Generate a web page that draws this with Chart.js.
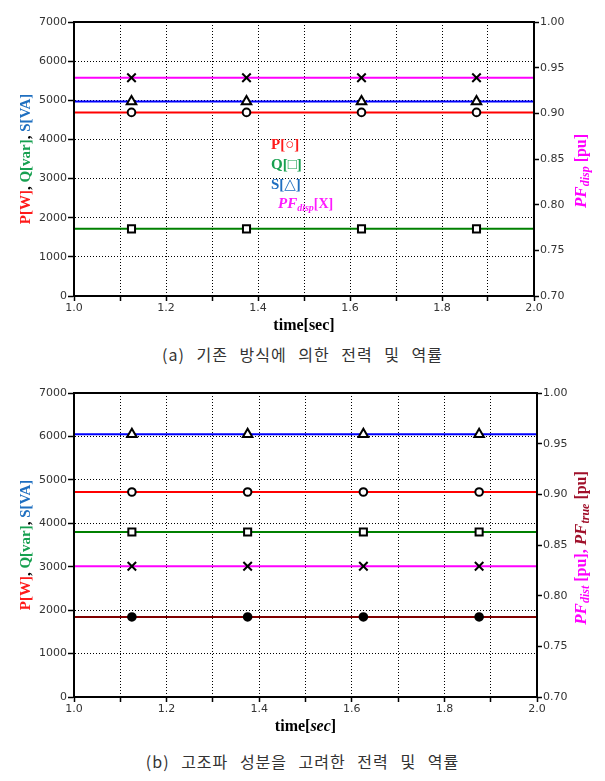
<!DOCTYPE html>
<html>
<head>
<meta charset="utf-8">
<script src="https://cdn.jsdelivr.net/npm/chart.js@4.4.1/dist/chart.umd.min.js"></script>
<style>
  body { margin: 0; background: #fff; width: 605px; height: 781px; position: relative; overflow: hidden; }
  .box { position: absolute; left: 0; width: 605px; }
  .cap { position: absolute; left: 0; width: 605px; text-align: center; font-family: "Noto Sans CJK KR", sans-serif;
         font-size: 16px; color: #333; letter-spacing: 1px; word-spacing: 7px; }
</style>
</head>
<body>
<div class="box" style="top:0;height:340px"><canvas id="chartA" width="605" height="340"></canvas></div>
<div class="cap" style="top:342px">(a) 기존 방식에 의한 전력 및 역률</div>
<div class="box" style="top:380px;height:365px"><canvas id="chartB" width="605" height="365"></canvas></div>
<div class="cap" style="top:749px">(b) 고조파 성분을 고려한 전력 및 역률</div>
<script>
// time axis [sec] - ends carry the line, inner points carry the markers
const time = [1.0, 1.125, 1.375, 1.625, 1.875, 2.0];

// (a) conventional method
const pA = [4690, 4690, 4690, 4690, 4690, 4690];
const qA = [1715, 1715, 1715, 1715, 1715, 1715];
const sA = [4970, 4970, 4970, 4970, 4970, 4970];
const pfDispA = [0.939, 0.939, 0.939, 0.939, 0.939, 0.939];

// (b) with harmonics
const pB = [4720, 4720, 4720, 4720, 4720, 4720];
const qB = [3800, 3800, 3800, 3800, 3800, 3800];
const sB = [6050, 6050, 6050, 6050, 6050, 6050];
const pfDistB = [0.829, 0.829, 0.829, 0.829, 0.829, 0.829];
const pfTrueB = [0.779, 0.779, 0.779, 0.779, 0.779, 0.779];

const leftTicks = [0, 7000, 1000];
const rightTicks = [0.70, 1.00, 0.05];

const SERIF = '"Liberation Serif", "DejaVu Serif", serif';
const markerSize = { circle: 3.8, rect: 5, triangle: 5.5, crossRot: 6 };

function series(label, vals, color, style, axis, fill) {
    return {
        label: label,
        data: vals.map((v, i) => ({ x: time[i], y: v })),
        yAxisID: axis,
        borderColor: color,
        borderWidth: 2,
        pointStyle: style,
        pointRadius: c => (c.dataIndex === 0 || c.dataIndex === time.length - 1) ? 0 : markerSize[style],
        pointBorderColor: '#000',
        pointBorderWidth: 2,
        pointBackgroundColor: fill || '#fff',
        tension: 0
    };
}

// draws a run of coloured text pieces; rot = rotate -90deg around (x, y)
function richText(ctx, x, y, parts, rot, align) {
    ctx.save();
    ctx.translate(x, y);
    if (rot) ctx.rotate(-Math.PI / 2);
    let total = 0;
    parts.forEach(p => { ctx.font = p.font; total += ctx.measureText(p.t).width; });
    let cx = align === 'left' ? 0 : -total / 2;
    ctx.textBaseline = 'middle';
    parts.forEach(p => {
        ctx.font = p.font;
        ctx.fillStyle = p.c || '#000';
        ctx.fillText(p.t, cx, p.dy || 0);
        cx += ctx.measureText(p.t).width;
    });
    ctx.restore();
}

function decorations(cfg) {
    return {
        id: 'decor',
        afterDraw(chart) {
            const ctx = chart.ctx, a = chart.chartArea;
            ctx.save();
            ctx.strokeStyle = '#000';
            ctx.lineWidth = 2;
            ctx.strokeRect(a.left, a.top, a.right - a.left, a.bottom - a.top);
            ctx.restore();
            const b = 'bold 15px ' + SERIF;
            richText(ctx, 26, (a.top + a.bottom) / 2, [
                { t: 'P[W]', c: '#ff1a1a', font: b },
                { t: ', ', c: '#000', font: b },
                { t: 'Q[var]', c: '#17a050', font: b },
                { t: ', ', c: '#000', font: b },
                { t: 'S[VA]', c: '#1f6fc0', font: b }
            ], true);
            richText(ctx, 582, cfg.rightY, cfg.rightTitle, true);
            richText(ctx, (a.left + a.right) / 2, a.bottom + 30, cfg.xTitle, false);
            if (cfg.extra) cfg.extra(ctx);
        }
    };
}

function makeOptions(pad, xh, rw) {
    return {
        responsive: false,
        animation: false,
        layout: { padding: { top: pad, left: 0, right: 0, bottom: 0 } },
        plugins: { legend: { display: false }, tooltip: { enabled: false } },
        scales: {
            x: {
                type: 'linear', min: 1.0, max: 2.0,
                afterFit: s => { s.height = xh; },
                ticks: {
                    stepSize: 0.1, color: '#333', padding: 1, maxRotation: 0, autoSkip: false,
                    font: { family: '"DejaVu Sans", sans-serif', size: 11 },
                    callback: v => Math.round(v * 10) % 2 === 0 ? v.toFixed(1) : ''
                },
                grid: { color: '#000', lineWidth: 1, tickLength: 5, tickColor: '#000', tickWidth: 1.5 },
                border: { color: '#000', width: 2, dash: [1, 2] }
            },
            y: {
                position: 'left', min: leftTicks[0], max: leftTicks[1],
                afterFit: s => { s.width = 74; },
                ticks: {
                    stepSize: leftTicks[2], color: '#333', padding: 1,
                    font: { family: '"DejaVu Sans", sans-serif', size: 11 },
                    callback: v => String(v)
                },
                grid: { color: '#000', lineWidth: 1, tickLength: 6, tickColor: '#000', tickWidth: 1.5 },
                border: { color: '#000', width: 2, dash: [1, 2] }
            },
            y1: {
                position: 'right', min: rightTicks[0], max: rightTicks[1],
                afterFit: s => { s.width = rw; },
                ticks: {
                    stepSize: rightTicks[2], color: '#333', padding: 1,
                    font: { family: '"DejaVu Sans", sans-serif', size: 11 },
                    callback: v => v.toFixed(2)
                },
                grid: { drawOnChartArea: false, tickLength: 5, tickColor: '#000', tickWidth: 1.5 },
                border: { color: '#000', width: 2 }
            }
        }
    };
}

const big = 'bold 15px ' + SERIF;
const bigI = 'italic bold 15px ' + SERIF;
const sub = 'italic bold 10px ' + SERIF;
const rBig = 'bold 16px ' + SERIF;
const rBigI = 'italic bold 17px ' + SERIF;
const rSub = 'italic bold 12px ' + SERIF;

new Chart(document.getElementById('chartA'), {
    type: 'line',
    data: {
        datasets: [
            series('P', pA, '#ff0000', 'circle', 'y'),
            series('Q', qA, '#008000', 'rect', 'y'),
            series('S', sA, '#0000ff', 'triangle', 'y'),
            series('PFdisp', pfDispA, '#ff00ff', 'crossRot', 'y1')
        ]
    },
    options: makeOptions(22, 44, 71),
    plugins: [decorations({
        rightY: 171,
        rightTitle: [
            { t: 'PF', c: '#ff00ff', font: rBigI },
            { t: 'disp', c: '#ff00ff', font: rSub, dy: 4 },
            { t: ' [pu]', c: '#ff00ff', font: rBig }
        ],
        xTitle: [{ t: 'time[sec]', font: 'bold 16px ' + SERIF }],
        extra: ctx => {
            richText(ctx, 271, 145, [{ t: 'P[○]', c: '#ff1a1a', font: big }], false, 'left');
            richText(ctx, 271, 165, [{ t: 'Q[□]', c: '#17a050', font: big }], false, 'left');
            richText(ctx, 271, 185, [{ t: 'S[△]', c: '#1f6fc0', font: big }], false, 'left');
            richText(ctx, 278, 204, [
                { t: 'PF', c: '#ff1aff', font: bigI },
                { t: 'disp', c: '#ff1aff', font: sub, dy: 4 },
                { t: '[X]', c: '#ff1aff', font: 'bold 14px ' + SERIF }
            ], false, 'left');
        }
    })]
});

new Chart(document.getElementById('chartB'), {
    type: 'line',
    data: {
        datasets: [
            series('S', sB, '#0000ff', 'triangle', 'y'),
            series('P', pB, '#ff0000', 'circle', 'y'),
            series('Q', qB, '#008000', 'rect', 'y'),
            series('PFdist', pfDistB, '#ff00ff', 'crossRot', 'y1'),
            series('PFtrue', pfTrueB, '#800000', 'circle', 'y1', '#000')
        ]
    },
    options: makeOptions(13, 48, 68),
    plugins: [decorations({
        rightY: 168,
        rightTitle: [
            { t: 'PF', c: '#ff00ff', font: rBigI },
            { t: 'dist', c: '#ff00ff', font: rSub, dy: 4 },
            { t: ' [pu], ', c: '#ff00ff', font: rBig },
            { t: 'PF', c: '#a0102a', font: rBigI },
            { t: 'true', c: '#a0102a', font: rSub, dy: 4 },
            { t: ' [pu]', c: '#a0102a', font: rBig }
        ],
        xTitle: [
            { t: 'time[', font: 'bold 16px ' + SERIF },
            { t: 'sec', font: 'italic bold 16px ' + SERIF },
            { t: ']', font: 'bold 16px ' + SERIF }
        ]
    })]
});
</script>
</body>
</html>
